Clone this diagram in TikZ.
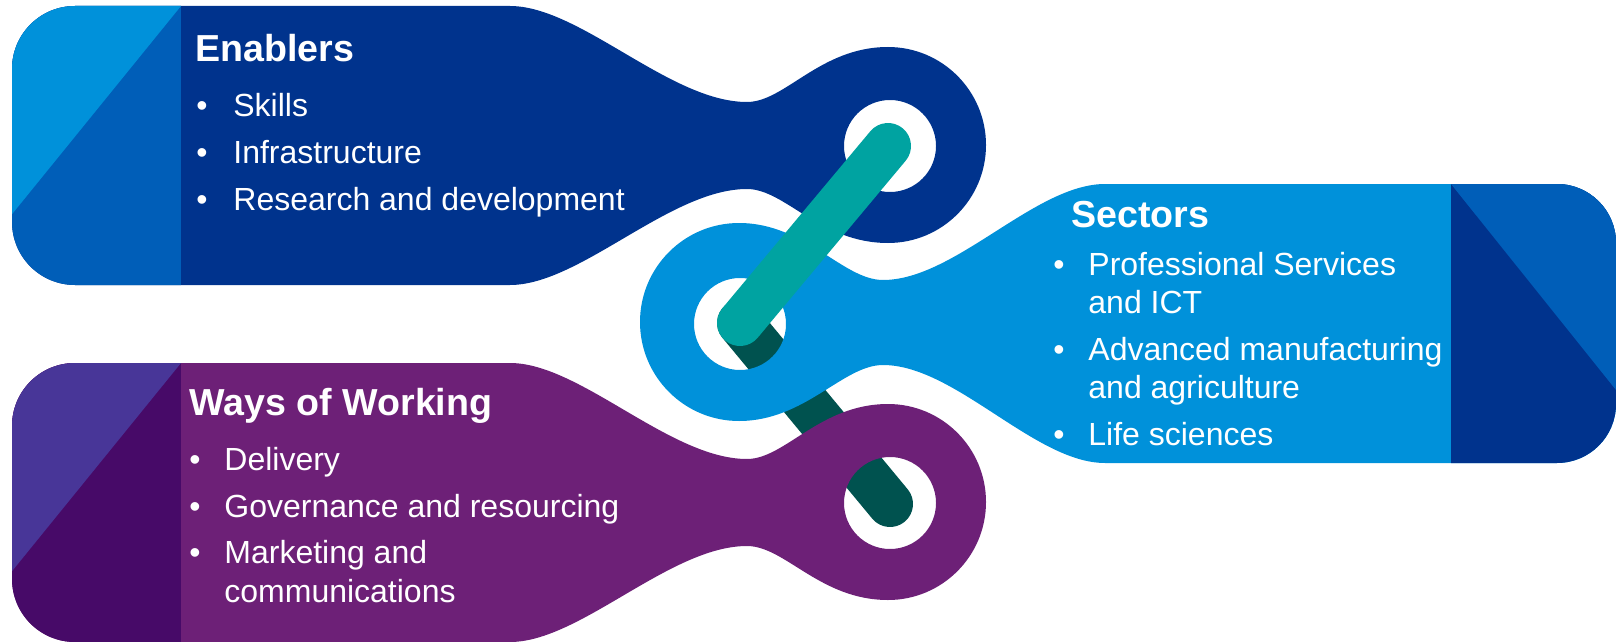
\documentclass[tikz,border=0pt]{standalone}
\usepackage{fontspec}
\setmainfont{Liberation Sans}
\usepackage{xcolor}

\definecolor{kblue}{HTML}{00338D}
\definecolor{kmid}{HTML}{005EB8}
\definecolor{klight}{HTML}{0091DA}
\definecolor{kpurple}{HTML}{6D2077}
\definecolor{kviolet}{HTML}{483698}
\definecolor{kdeep}{HTML}{470A68}
\definecolor{kteal}{HTML}{00A3A1}
\definecolor{kdarkteal}{HTML}{00524F}

\begin{document}
\begin{tikzpicture}[x=0.5pt,y=-0.5pt,
		headtext/.style={anchor=base west,inner sep=0pt,text=white,font=\fontsize{18.8}{22}\selectfont\bfseries},
		itemtext/.style={anchor=base west,inner sep=0pt,text=white,font=\fontsize{16}{19}\selectfont},
		linkbar/.style={line width=23pt,line cap=round}]
		%\draw[help lines] (0,0) grid[step=100] (1616,642);
		\useasboundingbox (0,0) rectangle (1616,642);

		\coordinate (tophole) at (888,146);
		\coordinate (midhole) at (740,323);
		\coordinate (bothole) at (890,504);

		% lower bar sits under the links
		\draw[linkbar,kdarkteal] (midhole) -- (bothole);

		% enablers and ways of working
		\foreach \sh/\main/\upper/\lower in {0/kblue/klight/kmid, 357/kpurple/kviolet/kdeep}{
		\begin{scope}[shift={(0,\sh)}]
			\fill[\main,even odd rule] (75,6) -- (510,6)
				.. controls (580,6) and (670,102) .. (747,102)
				.. controls (785,102) and (820,47) .. (888,47)
				arc[start angle=-90,end angle=90,radius=98]
				.. controls (820,243) and (785,189) .. (747,189)
				.. controls (670,189) and (580,285) .. (510,285)
				-- (75,285) arc[start angle=90,end angle=180,radius=63]
				-- (12,69) arc[start angle=180,end angle=270,radius=63] -- cycle
				(890,146) circle[radius=46];
			\begin{scope}
				\clip (181,6) -- (75,6) arc[start angle=270,end angle=180,radius=63]
					-- (12,222) arc[start angle=180,end angle=90,radius=63] -- (181,285) -- cycle;
				\fill[\lower] (0,0) rectangle (181,290);
				\fill[\upper] (181,6) -- (0,6) -- (0,229) -- cycle;
			\end{scope}
		\end{scope}
		}

		% sectors
		\fill[klight,even odd rule] (739,223)
			.. controls (805,223) and (843,280) .. (883,280)
			.. controls (955,280) and (1035,184) .. (1105,184)
			-- (1557,184) arc[start angle=-90,end angle=0,radius=59]
			-- (1616,404) arc[start angle=0,end angle=90,radius=59]
			-- (1105,463)
			.. controls (1035,463) and (955,365) .. (883,365)
			.. controls (843,365) and (805,421) .. (739,421)
			arc[start angle=90,end angle=270,radius=99] -- cycle
			(740,324) circle[radius=46];
		\begin{scope}
			\clip (1451,184) -- (1557,184) arc[start angle=-90,end angle=0,radius=59]
				-- (1616,404) arc[start angle=0,end angle=90,radius=59] -- (1451,463) -- cycle;
			\fill[kblue] (1451,180) rectangle (1620,470);
			\fill[kmid] (1451,184) -- (1620,184) -- (1620,395) -- cycle;
		\end{scope}

		% upper bar on top
		\draw[linkbar,kteal] (midhole) -- (tophole);

		\node[headtext] (en) at (195,62) {Enablers};
		\foreach \txt/\yy [count=\i] in {Skills/117,Infrastructure/163,Research and development/210}{
			\node[itemtext] (enb\i) at (196,\yy) {•};
			\node[itemtext] (en\i) at (233,\yy) {\txt};
		}

		\node[headtext] (sec) at (1071,227) {Sectors};
		\foreach \yy [count=\i] in {275,360,445}
			\node[itemtext] (secb\i) at (1053,\yy) {•};
		\foreach \txt/\yy [count=\i] in {Professional Services/275,and ICT/313,Advanced manufacturing/360,and agriculture/398,Life sciences/445}
			\node[itemtext] (sec\i) at (1088,\yy) {\txt};

		\node[headtext] (way) at (189,415) {Ways of Working};
		\foreach \yy [count=\i] in {470,517,563}
			\node[itemtext] (wayb\i) at (189,\yy) {•};
		\foreach \txt/\yy [count=\i] in {Delivery/470,Governance and resourcing/517,Marketing and/563,communications/602}
			\node[itemtext] (way\i) at (224,\yy) {\txt};
\end{tikzpicture}
\end{document}
